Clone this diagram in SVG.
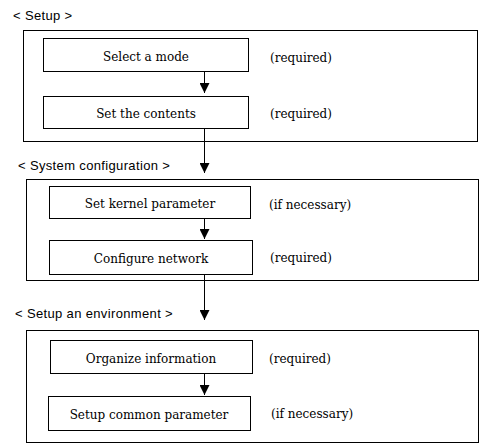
<svg xmlns="http://www.w3.org/2000/svg" width="489" height="447" viewBox="0 0 489 447">
<style>
.box{fill:#fff;stroke:#000;stroke-width:1}
.frame{fill:none;stroke:#000;stroke-width:1}
.nt{font-family:"DejaVu Serif","Liberation Serif",serif;font-size:12px;fill:#000;text-anchor:middle}
.note{font-family:"DejaVu Serif","Liberation Serif",serif;font-size:12px;fill:#000}
.sec{font-family:"Liberation Sans",Arial,sans-serif;font-size:13px;letter-spacing:0.35px;fill:#000}
.conn{stroke:#000;stroke-width:1;fill:none;marker-end:url(#ah)}
</style>
<defs>
<marker id="ah" markerUnits="userSpaceOnUse" markerWidth="10" markerHeight="10" refX="10" refY="5" orient="auto" viewBox="0 0 10 10">
<path d="M0,0 L10,5 L0,10 z" fill="#000"/>
</marker>
</defs>
<rect width="489" height="447" fill="#fff"/>

<g id="sec-setup">
<text class="sec" x="13" y="20">&lt; Setup &gt;</text>
<rect class="frame" x="23.5" y="30.5" width="454" height="111"/>
</g>
<g id="sec-system">
<text class="sec" x="18" y="170">&lt; System configuration &gt;</text>
<rect class="frame" x="26.5" y="179.5" width="452" height="101"/>
</g>
<g id="sec-env">
<text class="sec" x="15" y="318">&lt; Setup an environment &gt;</text>
<rect class="frame" x="26.5" y="330.5" width="452" height="112"/>
</g>

<g id="connectors">
<line class="conn" x1="204.5" y1="72" x2="204.5" y2="93"/>
<line class="conn" x1="204.5" y1="128" x2="204.5" y2="173"/>
<line class="conn" x1="204.5" y1="218" x2="204.5" y2="239"/>
<line class="conn" x1="204.5" y1="274" x2="204.5" y2="320"/>
<line class="conn" x1="204.5" y1="373" x2="204.5" y2="395"/>
</g>

<g id="n-select-mode">
<rect class="box" x="43.5" y="38.5" width="205" height="33"/>
<text class="nt" x="146" y="61">Select a mode</text>
<text class="note" x="270" y="62">(required)</text>
</g>
<g id="n-set-contents">
<rect class="box" x="43.5" y="96.5" width="205" height="32"/>
<text class="nt" x="146" y="118">Set the contents</text>
<text class="note" x="270" y="118">(required)</text>
</g>
<g id="n-kernel">
<rect class="box" x="49.5" y="186.5" width="201" height="32"/>
<text class="nt" x="150" y="208">Set kernel parameter</text>
<text class="note" x="269" y="209">(if necessary)</text>
</g>
<g id="n-network">
<rect class="box" x="49.5" y="240.5" width="203" height="34"/>
<text class="nt" x="151" y="263">Configure network</text>
<text class="note" x="270" y="262">(required)</text>
</g>
<g id="n-organize">
<rect class="box" x="50.5" y="340.5" width="202" height="33"/>
<text class="nt" x="151" y="363">Organize information</text>
<text class="note" x="269" y="363">(required)</text>
</g>
<g id="n-common">
<rect class="box" x="48.5" y="396.5" width="202" height="34"/>
<text class="nt" x="149" y="419">Setup common parameter</text>
<text class="note" x="271" y="418">(if necessary)</text>
</g>
</svg>
